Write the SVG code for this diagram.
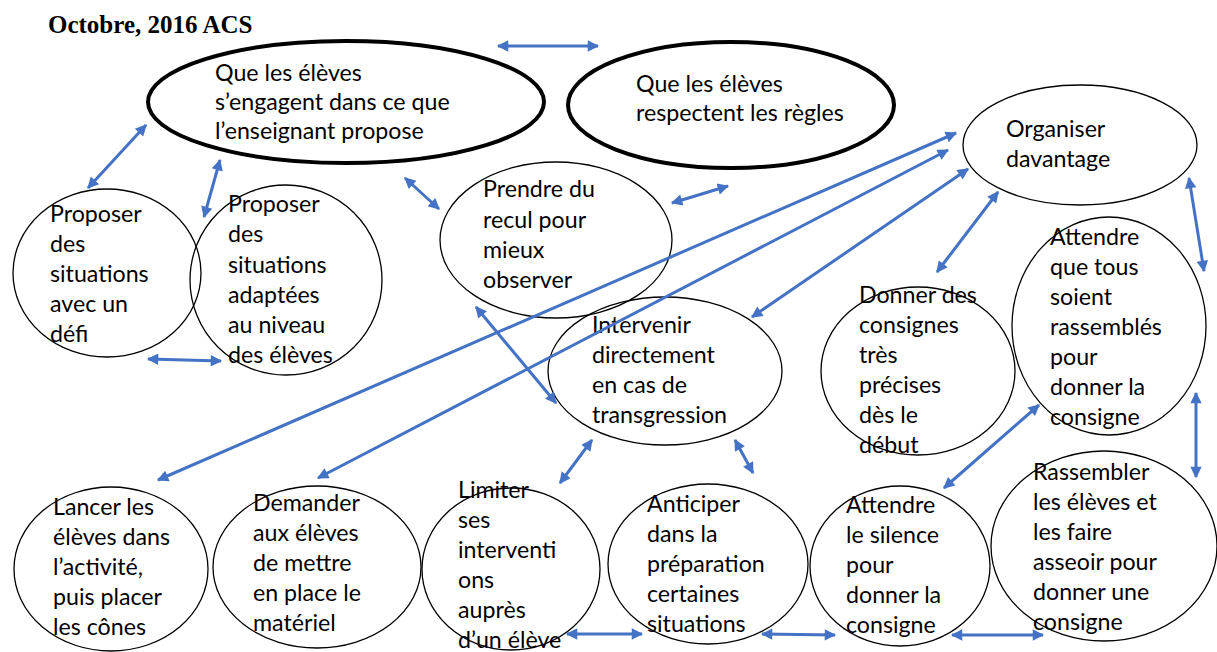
<svg xmlns="http://www.w3.org/2000/svg" width="1217" height="652" viewBox="0 0 1217 652">
<style>
.t{font-family:Lato,"Open Sans",sans-serif;font-size:23.2px;fill:#000}
.n{fill:none;stroke:#000;stroke-width:1.3}
.k{fill:none;stroke:#000;stroke-width:4}
.c{stroke:#4472C4;stroke-width:3;fill:none;marker-start:url(#ah);marker-end:url(#ah)}
</style>
<defs>
<marker id="ah" viewBox="0 0 10 10" refX="9" refY="5" markerWidth="4.8" markerHeight="3.8" orient="auto-start-reverse">
<path d="M0,0 L10,5 L0,10 z" fill="#4472C4"/>
</marker>
</defs>
<rect width="1217" height="652" fill="#fff"/>
<text x="48" y="33" font-family="'Liberation Serif',serif" font-weight="bold" font-size="25">Octobre, 2016 ACS</text>

<g id="n-engagent"><ellipse class="k" cx="346" cy="102" rx="198" ry="61"/>
<text class="t"><tspan x="215" y="81">Que les élèves</tspan><tspan x="215" y="110">s’engagent dans ce que</tspan><tspan x="215" y="139">l’enseignant propose</tspan></text></g>

<g id="n-regles"><ellipse class="k" cx="731" cy="105" rx="163" ry="63"/>
<text class="t"><tspan x="636" y="92">Que les élèves</tspan><tspan x="636" y="121">respectent les règles</tspan></text></g>

<g id="n-organiser"><ellipse class="n" cx="1080" cy="145" rx="117" ry="60"/>
<text class="t"><tspan x="1006" y="137">Organiser</tspan><tspan x="1006" y="167">davantage</tspan></text></g>

<g id="n-defi"><ellipse class="n" cx="107" cy="273" rx="94" ry="84"/>
<text class="t"><tspan x="50" y="222">Proposer</tspan><tspan x="50" y="252">des</tspan><tspan x="50" y="282">situations</tspan><tspan x="50" y="312">avec un</tspan><tspan x="50" y="342">défi</tspan></text></g>

<g id="n-adaptees"><ellipse class="n" cx="286" cy="280" rx="96" ry="95"/>
<text class="t"><tspan x="228" y="212">Proposer</tspan><tspan x="228" y="242">des</tspan><tspan x="228" y="273">situations</tspan><tspan x="228" y="303">adaptées</tspan><tspan x="228" y="333">au niveau</tspan><tspan x="228" y="363">des élèves</tspan></text></g>

<g id="n-recul"><ellipse class="n" cx="556" cy="240" rx="116" ry="78"/>
<text class="t"><tspan x="483" y="197">Prendre du</tspan><tspan x="483" y="228">recul pour</tspan><tspan x="483" y="258">mieux</tspan><tspan x="483" y="288">observer</tspan></text></g>

<g id="n-intervenir"><ellipse class="n" cx="665" cy="371" rx="117" ry="74"/>
<text class="t"><tspan x="592" y="333">Intervenir</tspan><tspan x="592" y="363">directement</tspan><tspan x="592" y="393">en cas de</tspan><tspan x="592" y="423">transgression</tspan></text></g>

<g id="n-consignes"><ellipse class="n" cx="918" cy="371" rx="97" ry="84"/>
<text class="t"><tspan x="859" y="303">Donner des</tspan><tspan x="859" y="333">consignes</tspan><tspan x="859" y="363">très</tspan><tspan x="859" y="393">précises</tspan><tspan x="859" y="423">dès le</tspan><tspan x="859" y="453">début</tspan></text></g>

<g id="n-tous"><ellipse class="n" cx="1109" cy="326" rx="97" ry="109"/>
<text class="t"><tspan x="1050" y="245">Attendre</tspan><tspan x="1050" y="275">que tous</tspan><tspan x="1050" y="305">soient</tspan><tspan x="1050" y="335">rassemblés</tspan><tspan x="1050" y="365">pour</tspan><tspan x="1050" y="395">donner la</tspan><tspan x="1050" y="425">consigne</tspan></text></g>

<g id="n-lancer"><ellipse class="n" cx="111" cy="569" rx="97" ry="82"/>
<text class="t"><tspan x="53" y="515">Lancer les</tspan><tspan x="53" y="545">élèves dans</tspan><tspan x="53" y="575">l’activité,</tspan><tspan x="53" y="605">puis placer</tspan><tspan x="53" y="635">les cônes</tspan></text></g>

<g id="n-demander"><ellipse class="n" cx="317" cy="567" rx="104" ry="81"/>
<text class="t"><tspan x="253" y="511">Demander</tspan><tspan x="253" y="541">aux élèves</tspan><tspan x="253" y="571">de mettre</tspan><tspan x="253" y="601">en place le</tspan><tspan x="253" y="631">matériel</tspan></text></g>

<g id="n-limiter"><ellipse class="n" cx="511" cy="569" rx="89" ry="81"/>
<text class="t"><tspan x="458" y="498">Limiter</tspan><tspan x="458" y="528">ses</tspan><tspan x="458" y="558">interventi</tspan><tspan x="458" y="588">ons</tspan><tspan x="458" y="618">auprès</tspan><tspan x="458" y="648">d’un élève</tspan></text></g>

<g id="n-anticiper"><ellipse class="n" cx="708" cy="564" rx="100" ry="80"/>
<text class="t"><tspan x="647" y="512">Anticiper</tspan><tspan x="647" y="542">dans la</tspan><tspan x="647" y="572">préparation</tspan><tspan x="647" y="602">certaines</tspan><tspan x="647" y="632">situations</tspan></text></g>

<g id="n-silence"><ellipse class="n" cx="900" cy="566" rx="90" ry="80"/>
<text class="t"><tspan x="846" y="513">Attendre</tspan><tspan x="846" y="543">le silence</tspan><tspan x="846" y="573">pour</tspan><tspan x="846" y="603">donner la</tspan><tspan x="846" y="633">consigne</tspan></text></g>

<g id="n-rassembler"><ellipse class="n" cx="1104" cy="546" rx="113" ry="95"/>
<text class="t"><tspan x="1033" y="480">Rassembler</tspan><tspan x="1033" y="510">les élèves et</tspan><tspan x="1033" y="540">les faire</tspan><tspan x="1033" y="570">asseoir pour</tspan><tspan x="1033" y="600">donner une</tspan><tspan x="1033" y="630">consigne</tspan></text></g>

<g id="connectors">
<line class="c" x1="498" y1="46" x2="598" y2="46"/>
<line class="c" x1="146" y1="125" x2="88" y2="188"/>
<line class="c" x1="220" y1="160" x2="204" y2="217"/>
<line class="c" x1="148" y1="359" x2="221" y2="361"/>
<line class="c" x1="405" y1="178" x2="439" y2="209"/>
<line class="c" x1="672" y1="203" x2="728" y2="186"/>
<line class="c" x1="476" y1="307" x2="556" y2="403"/>
<line class="c" x1="158" y1="480" x2="956" y2="133"/>
<line class="c" x1="318" y1="478" x2="948" y2="150"/>
<line class="c" x1="752" y1="317" x2="968" y2="169"/>
<line class="c" x1="937" y1="272" x2="998" y2="192"/>
<line class="c" x1="1189" y1="178" x2="1204" y2="271"/>
<line class="c" x1="1196" y1="393" x2="1196" y2="477"/>
<line class="c" x1="1039" y1="405" x2="944" y2="488"/>
<line class="c" x1="592" y1="440" x2="560" y2="483"/>
<line class="c" x1="735" y1="440" x2="753" y2="473"/>
<line class="c" x1="567" y1="634" x2="642" y2="634"/>
<line class="c" x1="762" y1="634" x2="835" y2="635"/>
<line class="c" x1="952" y1="635" x2="1043" y2="635"/>
</g>
</svg>
